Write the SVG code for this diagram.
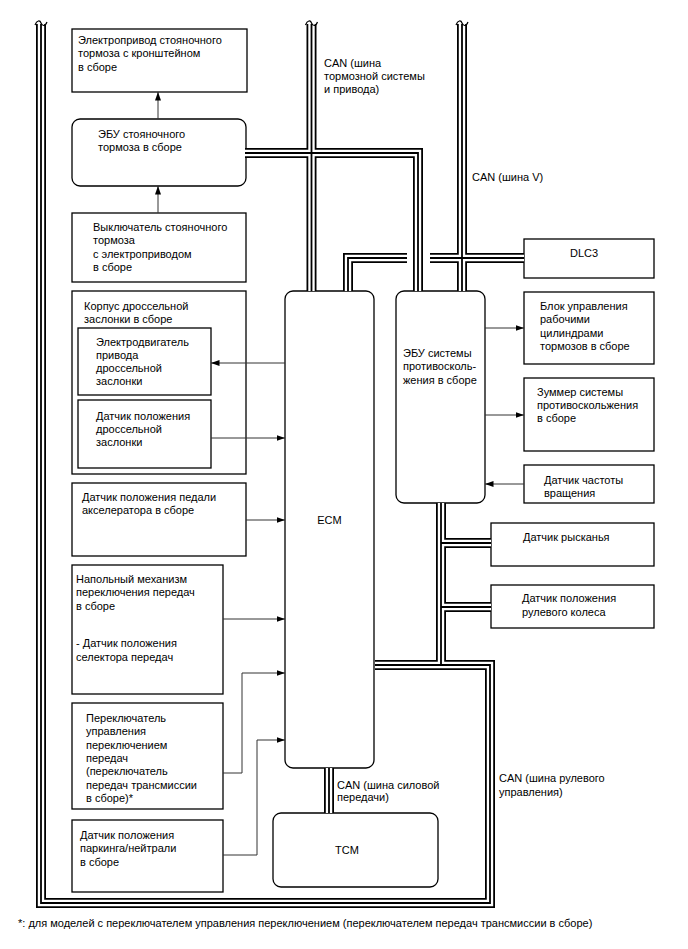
<svg xmlns="http://www.w3.org/2000/svg" width="688" height="949" viewBox="0 0 688 949">
<style>
text{font-family:"Liberation Sans",Arial,sans-serif;font-size:11px;fill:#000}
.box{fill:#fff;stroke:#000;stroke-width:1.3}
.ln{fill:none;stroke:#333;stroke-width:1}
.bo{fill:none;stroke:#000;stroke-width:10;stroke-linejoin:miter}
.bw{fill:none;stroke:#fff;stroke-width:6.4;stroke-linejoin:miter}
.bc{fill:none;stroke:#000;stroke-width:1.8;stroke-linejoin:miter}
.brk{fill:none;stroke:#000;stroke-width:1.2}
</style>
<defs>
<marker id="ah" markerUnits="userSpaceOnUse" markerWidth="9" markerHeight="7" refX="8.5" refY="3.5" orient="auto">
<path d="M0,0.5 L8.5,3.5 L0,6.5 z" fill="#000"/>
</marker>
<path id="p1" d="M311.5,24 V291"/>
<path id="p2" d="M245,153 H418 V291"/>
<path id="p3" d="M462,24 V291"/>
<path id="p4" d="M348,291 V258 H407"/>
<path id="p5" d="M430,258 H524"/>
<path id="p6" d="M441,503 V665"/>
<path id="p7" d="M375,665 H490 V903 H41 V24"/>
<path id="p8" d="M441,543 H491"/>
<path id="p9" d="M441,607 H491"/>
<path id="p10" d="M329,768 V813"/>
</defs>

<g id="epb-actuator">
<rect class="box" x="72" y="29" width="175" height="63"/>
<text x="78" y="44">Электропривод стояночного</text>
<text x="78" y="57">тормоза с кронштейном</text>
<text x="78" y="71">в сборе</text>
</g>
<g id="epb-ecu">
<rect class="box" x="72" y="119" width="174" height="67" rx="8"/>
<text x="98" y="138">ЭБУ стояночного</text>
<text x="98" y="151">тормоза в сборе</text>
</g>
<g id="epb-switch">
<rect class="box" x="72" y="213" width="174" height="69"/>
<text x="93" y="231">Выключатель стояночного</text>
<text x="93" y="244">тормоза</text>
<text x="93" y="258">с электроприводом</text>
<text x="93" y="271">в сборе</text>
</g>
<g id="throttle-body">
<rect class="box" x="72" y="291" width="174" height="183"/>
<text x="84" y="310">Корпус дроссельной</text>
<text x="84" y="323">заслонки в сборе</text>
</g>
<g id="throttle-motor">
<rect class="box" x="78" y="328" width="133" height="67"/>
<text x="96" y="346">Электродвигатель</text>
<text x="96" y="359">привода</text>
<text x="96" y="372">дроссельной</text>
<text x="96" y="385">заслонки</text>
</g>
<g id="throttle-sensor">
<rect class="box" x="78" y="400" width="133" height="68"/>
<text x="96" y="420">Датчик положения</text>
<text x="96" y="433">дроссельной</text>
<text x="96" y="446">заслонки</text>
</g>
<g id="accel-sensor">
<rect class="box" x="72" y="483" width="174" height="73"/>
<text x="82" y="501">Датчик положения педали</text>
<text x="82" y="514">акселератора в сборе</text>
</g>
<g id="floor-shift">
<rect class="box" x="72" y="565" width="151" height="129"/>
<text x="76" y="583">Напольный механизм</text>
<text x="76" y="596">переключения передач</text>
<text x="76" y="610">в сборе</text>
<text x="76" y="647">- Датчик положения</text>
<text x="76" y="661">селектора передач</text>
</g>
<g id="shift-switch">
<rect class="box" x="72" y="703" width="151" height="106"/>
<text x="86" y="722">Переключатель</text>
<text x="86" y="735">управления</text>
<text x="86" y="749">переключением</text>
<text x="86" y="762">передач</text>
<text x="86" y="775">(переключатель</text>
<text x="86" y="789">передач трансмиссии</text>
<text x="86" y="802">в сборе)*</text>
</g>
<g id="pn-sensor">
<rect class="box" x="72" y="820" width="151" height="72"/>
<text x="80" y="839">Датчик положения</text>
<text x="80" y="852">паркинга/нейтрали</text>
<text x="80" y="866">в сборе</text>
</g>
<g id="ecm">
<rect class="box" x="285" y="291" width="89" height="477" rx="8"/>
<text x="329.5" y="524" text-anchor="middle">ECM</text>
</g>
<g id="abs-ecu">
<rect class="box" x="396" y="291" width="89" height="212" rx="8"/>
<text x="403" y="357">ЭБУ системы</text>
<text x="403" y="370">противосколь-</text>
<text x="403" y="384">жения в сборе</text>
</g>
<g id="tcm">
<rect class="box" x="273" y="813" width="165" height="74" rx="8"/>
<text x="335" y="854">TCM</text>
</g>
<g id="dlc3">
<rect class="box" x="524" y="239" width="130" height="39"/>
<text x="570" y="257">DLC3</text>
</g>
<g id="brake-actuator">
<rect class="box" x="524" y="292" width="130" height="72"/>
<text x="540" y="310">Блок управления</text>
<text x="540" y="323">рабочими</text>
<text x="540" y="337">цилиндрами</text>
<text x="540" y="350">тормозов в сборе</text>
</g>
<g id="buzzer">
<rect class="box" x="524" y="378" width="130" height="73"/>
<text x="537" y="396">Зуммер системы</text>
<text x="537" y="409">противоскольжения</text>
<text x="537" y="422">в сборе</text>
</g>
<g id="speed-sensor">
<rect class="box" x="524" y="465" width="130" height="38"/>
<text x="544" y="484">Датчик частоты</text>
<text x="544" y="497">вращения</text>
</g>
<g id="yaw-sensor">
<rect class="box" x="491" y="523" width="163" height="43"/>
<text x="523" y="541">Датчик рысканья</text>
</g>
<g id="steering-sensor">
<rect class="box" x="491" y="585" width="163" height="43"/>
<text x="522" y="602">Датчик положения</text>
<text x="522" y="616">рулевого колеса</text>
</g>
<g id="footnote">
<text x="18" y="927">*: для моделей с переключателем управления переключением (переключателем передач трансмиссии в сборе)</text>
</g>

<g id="connectors">
<g id="buses">
<use href="#p1" class="bo"/><use href="#p2" class="bo"/><use href="#p3" class="bo"/><use href="#p4" class="bo"/><use href="#p5" class="bo"/><use href="#p6" class="bo"/><use href="#p7" class="bo"/><use href="#p8" class="bo"/><use href="#p9" class="bo"/><use href="#p10" class="bo"/>
<use href="#p1" class="bw"/><use href="#p2" class="bw"/><use href="#p3" class="bw"/><use href="#p4" class="bw"/><use href="#p5" class="bw"/><use href="#p6" class="bw"/><use href="#p7" class="bw"/><use href="#p8" class="bw"/><use href="#p9" class="bw"/><use href="#p10" class="bw"/>
<use href="#p1" class="bc"/><use href="#p2" class="bc"/><use href="#p3" class="bc"/><use href="#p4" class="bc"/><use href="#p5" class="bc"/><use href="#p6" class="bc"/><use href="#p7" class="bc"/><use href="#p8" class="bc"/><use href="#p9" class="bc"/><use href="#p10" class="bc"/>
<path class="brk" d="M35,25 C37,20 40,20 41,23 S45,27 47,22"/>
<path class="brk" d="M305.5,25 C307.5,20 310.5,20 311.5,23 S315.5,27 317.5,22"/>
<path class="brk" d="M456,25 C458,20 461,20 462,23 S466,27 468,22"/>
</g>
<g id="arrows">
<path class="ln" d="M158,119 V92" marker-end="url(#ah)"/>
<path class="ln" d="M158,213 V186" marker-end="url(#ah)"/>
<path class="ln" d="M285,363 H211" marker-end="url(#ah)"/>
<path class="ln" d="M211,438 H285" marker-end="url(#ah)"/>
<path class="ln" d="M246,520 H285" marker-end="url(#ah)"/>
<path class="ln" d="M223,619 H285" marker-end="url(#ah)"/>
<path class="ln" d="M223,773 H242 V673 H285" marker-end="url(#ah)"/>
<path class="ln" d="M223,855 H257 V740 H285" marker-end="url(#ah)"/>
<path class="ln" d="M485,328 H524" marker-end="url(#ah)"/>
<path class="ln" d="M485,415 H524" marker-end="url(#ah)"/>
<path class="ln" d="M524,484 H485" marker-end="url(#ah)"/>
</g>
<g id="bus-labels">
<text x="324" y="67">CAN (шина</text>
<text x="324" y="80">тормозной системы</text>
<text x="324" y="93">и привода)</text>
<text x="472" y="181">CAN (шина V)</text>
<text x="337" y="789">CAN (шина силовой</text>
<text x="337" y="801">передачи)</text>
<text x="499" y="782">CAN (шина рулевого</text>
<text x="499" y="796">управления)</text>
</g>
</g>
</svg>
